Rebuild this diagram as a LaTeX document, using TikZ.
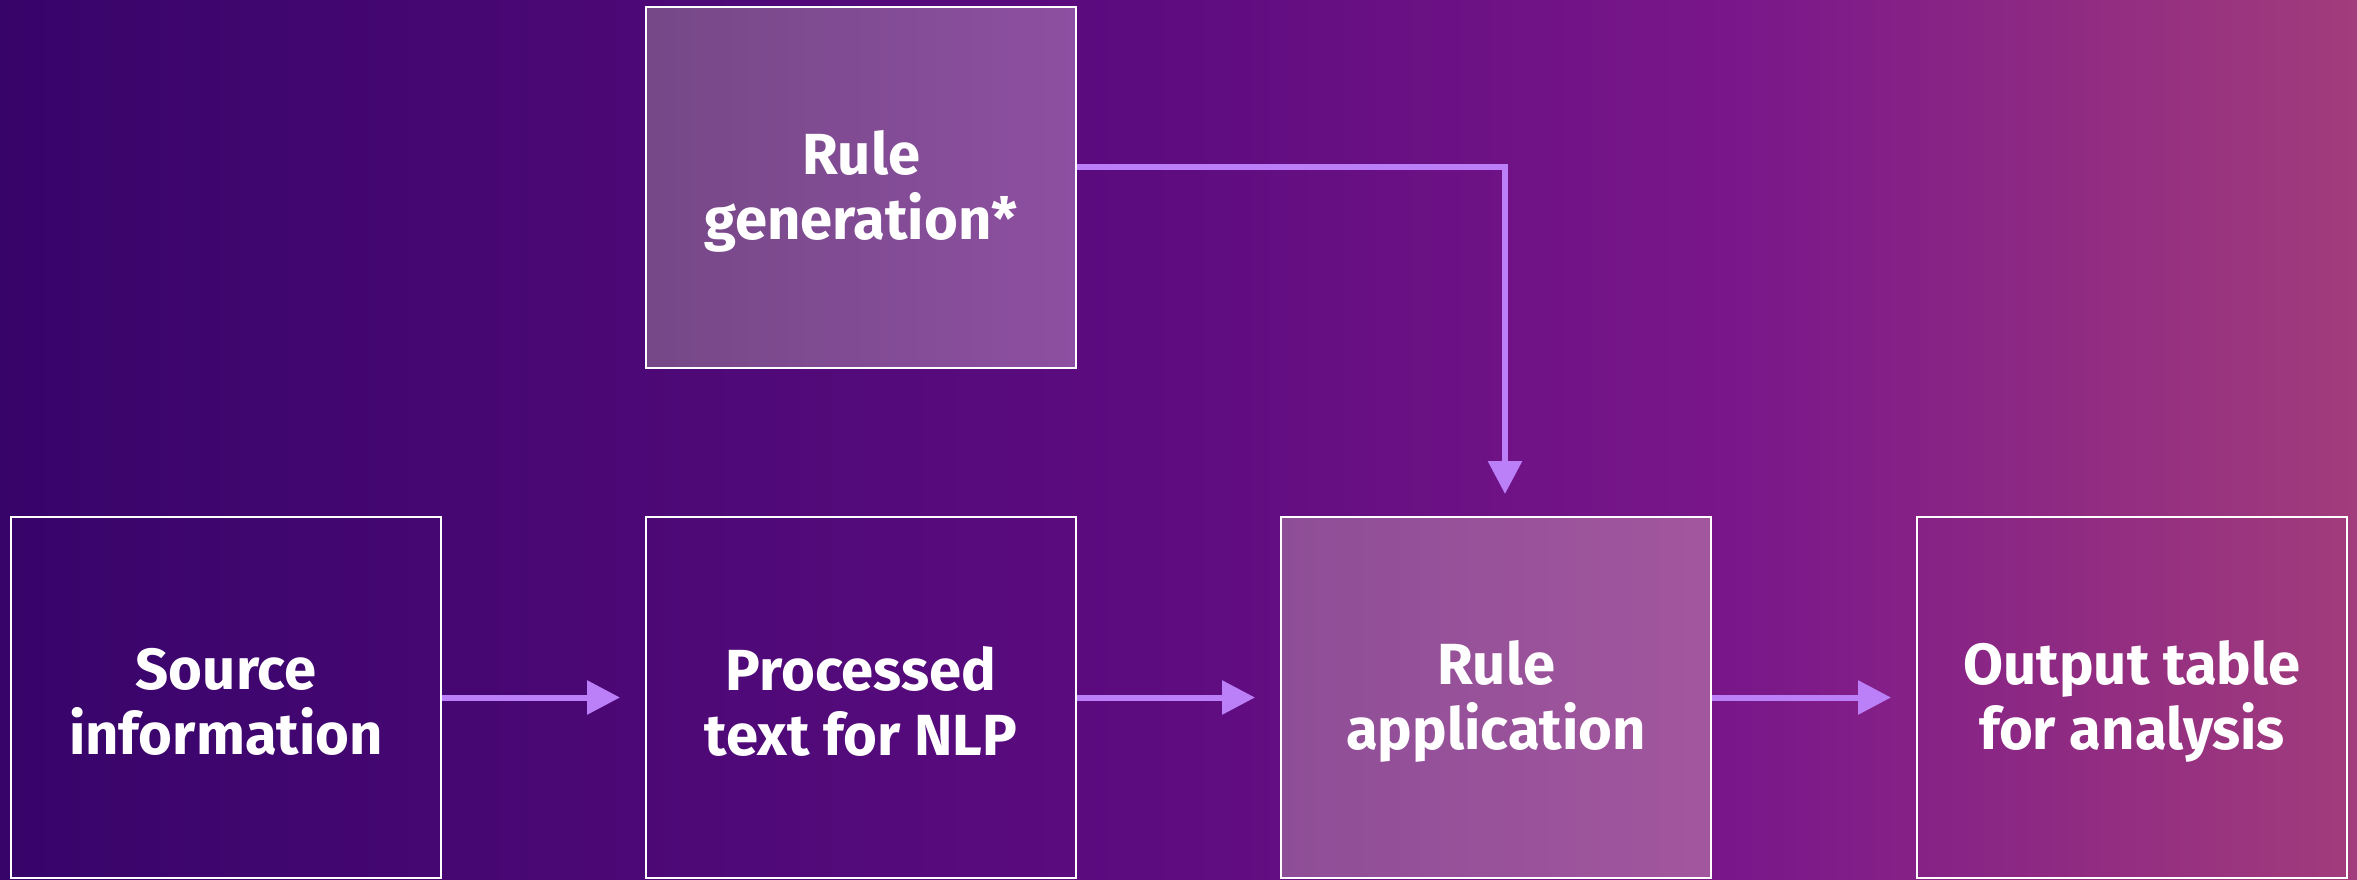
\documentclass[tikz,border=0pt]{standalone}
\usepackage{fontspec}
\setmainfont{Fira Sans}
\usetikzlibrary{arrows.meta}
\definecolor{bgA}{HTML}{37046A}
\definecolor{bgB}{HTML}{5E0C80}
\definecolor{bgC}{HTML}{7A178A}
\definecolor{bgD}{HTML}{A23C7C}
\definecolor{arrowc}{HTML}{BB7FF7}
\definecolor{genL}{HTML}{764887}
\definecolor{genR}{HTML}{8D4FA1}
\definecolor{appL}{HTML}{8E4E97}
\definecolor{appR}{HTML}{A2569D}
\pgfdeclarehorizontalshading{bgshade}{100bp}{color(0bp)=(bgA); color(25bp)=(bgA); color(50bp)=(bgB); color(62bp)=(bgC); color(75bp)=(bgD); color(100bp)=(bgD)}
\tikzset{
  box/.style={draw=white, line width=1pt, minimum width=215pt, minimum height=180.5pt, inner sep=0pt},
  txt/.style={text=white, align=center, font=\bfseries\fontsize{29}{32.5}\selectfont, inner sep=0pt},
  arr/.style={draw=arrowc, line width=3pt, -{Triangle[length=16.5pt,width=16.5pt]}}
}
\begin{document}
\begin{tikzpicture}[x=0.5pt,y=-0.5pt]
\shade[shading=bgshade] (0,0) rectangle (2357,879);
\useasboundingbox (0,0) rectangle (2357,879);
\node[box] (src) at (226,697.5) {};
\node[box] (proc) at (861,697.5) {};
\node[box, left color=appL, right color=appR] (app) at (1496,697.5) {};
\node[box] (out) at (2132,697.5) {};
\node[box, left color=genL, right color=genR] (gen) at (861,187) {};
\node[txt] (srcT) at ([yshift=-2pt]src.center) {Source\\information};
\node[txt] (procT) at ([yshift=-2pt]proc.center) {Processed\\text for NLP};
\node[txt] (appT) at ([yshift=-2pt]app.center) {Rule\\application};
\node[txt] (outT) at ([yshift=-2pt]out.center) {Output table\\for analysis};
\node[txt] (genT) at ([yshift=-2pt]gen.center) {Rule\\generation*};
\draw[arr] (src.east) -- ([xshift=-12.5pt]proc.west);
\draw[arr] (proc.east) -- ([xshift=-12.5pt]app.west);
\draw[arr] (app.east) -- ([xshift=-12.5pt]out.west);
\draw[arr] ([yshift=10pt]gen.east) -| ([xshift=4.5pt,yshift=11pt]app.north);
\end{tikzpicture}
\end{document}
